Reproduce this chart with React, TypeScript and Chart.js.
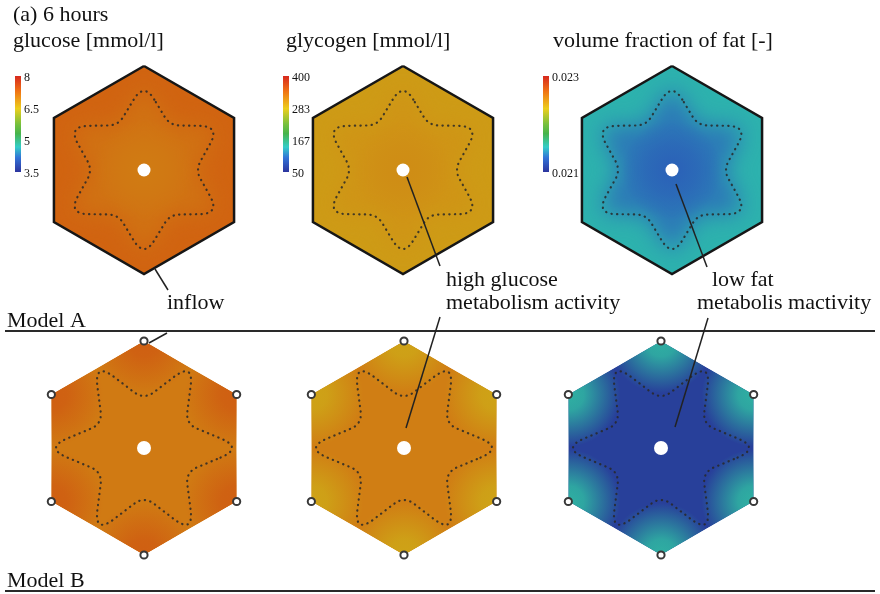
import { useEffect, useRef } from "react";
import { Chart, registerables } from "chart.js";

Chart.register(...registerables);

// ---------- values ----------
const timeLabel = "(a) 6 hours";
const fieldTitles = ["glucose [mmol/l]", "glycogen [mmol/l]", "volume fraction of fat [-]"];
const glucoseTicks = [8, 6.5, 5, 3.5];
const glycogenTicks = [400, 283, 167, 50];
const fatTicks = [0.023, 0.021];
const modelNames = ["Model A", "Model B"];

// field values per panel: [glucose, glycogen, fat]
const modelACentre = [7.04, 312, 0.02128];
const modelAZone = [7.14, 306, 0.02136];
const modelAInflow = [7.28, 300, 0.02152];
const modelBZone = [7.06, 323, 0.0211];
const modelBInflow = [7.34, 294, 0.02155];

const calloutInflow = ["inflow"];
const calloutGlucose = ["high glucose", "metabolism activity"];
const calloutFat = ["low fat", "metabolis mactivity"];

// ---------- layout ----------
const FIG_W = 880;
const FIG_H = 594;
const PANEL_X = [
  [144, 403, 672],
  [144, 404, 661],
];
const PANEL_Y = [170, 448];
const HEX_R = [104, 107];
const HOLE_R = [6.5, 7];
type StarShape = { tip: number; valley: number; dir: number; tipCut: number; valleyCut: number };
// dotted zone boundary (corner radii before rounding)
const STAR: StarShape[] = [
  { tip: 87.6, valley: 51.6, dir: 90, tipCut: 0.4, valleyCut: 0.2 },
  { tip: 99.6, valley: 48.2, dir: 0, tipCut: 0.4, valleyCut: 0.2 },
];
const BLOB_R = 52;
const BAR_X = [15, 283, 543];
const BAR_TOP = 76;
const BAR_BOTTOM = 172;
const BAR_W = 6;
const LEADERS = [
  [[155, 269], [168, 290]],
  [[167, 333], [149, 343]],
  [[407, 177], [440, 266]],
  [[440, 317], [406, 428]],
  [[676, 184], [707, 267]],
  [[708, 318], [675, 427]],
];
const RULE_Y = [331, 591];
const RULE_X = [5, 875];
const SERIF = "'Liberation Serif', 'Times New Roman', serif";

type RGB = [number, number, number];
const RAINBOW: [number, RGB][] = [
  [0.0, [215, 40, 30]],
  [0.16, [240, 115, 20]],
  [0.34, [236, 206, 28]],
  [0.5, [120, 192, 60]],
  [0.6, [70, 180, 75]],
  [0.74, [52, 205, 200]],
  [0.85, [50, 115, 215]],
  [1.0, [44, 52, 158]],
];
const FIELD_SHADE = 0.87;
const tickSets = [glucoseTicks, glycogenTicks, fatTicks];

function rainbow(t: number): RGB {
  const u = Math.min(1, Math.max(0, t));
  for (let i = 1; i < RAINBOW.length; i++) {
    const [t1, c1] = RAINBOW[i];
    const [t0, c0] = RAINBOW[i - 1];
    if (u <= t1) {
      const f = (u - t0) / (t1 - t0);
      return [0, 1, 2].map((k) => c0[k] + (c1[k] - c0[k]) * f) as RGB;
    }
  }
  return RAINBOW[RAINBOW.length - 1][1];
}

function fieldT(field: number, v: number) {
  const ticks = tickSets[field];
  const max = ticks[0];
  const min = ticks[ticks.length - 1];
  return (max - v) / (max - min);
}

function fieldColour(field: number, v: number, alpha = 1) {
  const c = rainbow(fieldT(field, v)).map((x) => Math.round(x * FIELD_SHADE));
  return `rgba(${c[0]},${c[1]},${c[2]},${alpha})`;
}

type Pt = { x: number; y: number };

function hexVertices(cx: number, cy: number, r: number, closed: boolean): Pt[] {
  const pts: Pt[] = [];
  for (let i = 0; i < 6; i++) {
    const a = ((90 - i * 60) * Math.PI) / 180;
    pts.push({ x: cx + r * Math.cos(a), y: cy - r * Math.sin(a) });
  }
  if (closed) pts.push(pts[0]);
  return pts;
}

// six-armed zone boundary: a hexagram with rounded corners
function starOutline(cx: number, cy: number, s: StarShape): Pt[] {
  const corners: Pt[] = [];
  for (let i = 0; i < 12; i++) {
    const a = ((s.dir + i * 30) * Math.PI) / 180;
    const r = i % 2 === 0 ? s.tip : s.valley;
    corners.push({ x: cx + r * Math.cos(a), y: cy - r * Math.sin(a) });
  }
  const pts: Pt[] = [];
  for (let i = 0; i < 12; i++) {
    const cut = i % 2 === 0 ? s.tipCut : s.valleyCut;
    const p = corners[i];
    const a = corners[(i + 11) % 12];
    const b = corners[(i + 1) % 12];
    const st = { x: p.x + (a.x - p.x) * cut, y: p.y + (a.y - p.y) * cut };
    const en = { x: p.x + (b.x - p.x) * cut, y: p.y + (b.y - p.y) * cut };
    const n = 14;
    for (let j = 0; j <= n; j++) {
      const t = j / n;
      const u = 1 - t;
      pts.push({
        x: u * u * st.x + 2 * u * t * p.x + t * t * en.x,
        y: u * u * st.y + 2 * u * t * p.y + t * t * en.y,
      });
    }
  }
  pts.push(pts[0]);
  return pts;
}

const fieldsPlugin = {
  id: "fields",
  beforeDatasetsDraw(chart: any) {
    const ctx: CanvasRenderingContext2D = chart.ctx;
    const xs = chart.scales.x;
    const ys = chart.scales.y;
    const px = (v: number) => xs.getPixelForValue(v);
    const py = (v: number) => ys.getPixelForValue(v);
    const k = px(1) - px(0);
    const path = (pts: Pt[]) => {
      ctx.beginPath();
      pts.forEach((p, i) => (i ? ctx.lineTo(px(p.x), py(p.y)) : ctx.moveTo(px(p.x), py(p.y))));
      ctx.closePath();
    };

    for (let m = 0; m < 2; m++) {
      for (let f = 0; f < 3; f++) {
        const cx = PANEL_X[m][f];
        const cy = PANEL_Y[m];
        const hex = hexVertices(cx, cy, HEX_R[m], false);
        ctx.save();
        path(hex);
        ctx.clip();
        if (m === 0) {
          ctx.fillStyle = fieldColour(f, modelAInflow[f]);
          ctx.fill();
          ctx.filter = `blur(${11 * k}px)`;
          path(starOutline(cx, cy, STAR[0]));
          ctx.fillStyle = fieldColour(f, modelAZone[f]);
          ctx.fill();
          ctx.filter = "none";
          const g = ctx.createRadialGradient(px(cx), py(cy), 0, px(cx), py(cy), 50 * k);
          g.addColorStop(0, fieldColour(f, modelACentre[f], 1));
          g.addColorStop(0.5, fieldColour(f, modelACentre[f], 0.6));
          g.addColorStop(1, fieldColour(f, modelACentre[f], 0));
          ctx.fillStyle = g;
          path(hex);
          ctx.fill();
        } else {
          ctx.fillStyle = fieldColour(f, modelBZone[f]);
          ctx.fill();
          for (const v of hex) {
            const g = ctx.createRadialGradient(px(v.x), py(v.y), 0, px(v.x), py(v.y), BLOB_R * k);
            g.addColorStop(0, fieldColour(f, modelBInflow[f], 1));
            g.addColorStop(0.3, fieldColour(f, modelBInflow[f], 0.9));
            g.addColorStop(1, fieldColour(f, modelBInflow[f], 0));
            ctx.fillStyle = g;
            path(hex);
            ctx.fill();
          }
        }
        ctx.restore();
      }
    }

    // colour bars
    for (let f = 0; f < 3; f++) {
      const x0 = px(BAR_X[f]);
      const y0 = py(BAR_TOP);
      const y1 = py(BAR_BOTTOM);
      const g = ctx.createLinearGradient(0, y0, 0, y1);
      RAINBOW.forEach(([t, c]) => g.addColorStop(t, `rgb(${c[0]},${c[1]},${c[2]})`));
      ctx.fillStyle = g;
      ctx.fillRect(x0, y0, BAR_W * k, y1 - y0);
      ctx.fillStyle = "#111";
      ctx.font = `${12 * k}px ${SERIF}`;
      ctx.textBaseline = "middle";
      ctx.textAlign = "left";
      for (const v of tickSets[f]) {
        const yy = BAR_TOP + fieldT(f, v) * (BAR_BOTTOM - BAR_TOP) + 2;
        ctx.fillText(String(v), px(BAR_X[f] + BAR_W + 3), py(yy));
      }
    }
  },
};

const textPlugin = {
  id: "texts",
  afterDatasetsDraw(chart: any) {
    const ctx: CanvasRenderingContext2D = chart.ctx;
    const xs = chart.scales.x;
    const ys = chart.scales.y;
    const k = xs.getPixelForValue(1) - xs.getPixelForValue(0);
    const put = (s: string, x: number, y: number) =>
      ctx.fillText(s, xs.getPixelForValue(x), ys.getPixelForValue(y));
    ctx.save();
    ctx.fillStyle = "#111";
    ctx.font = `${22 * k}px ${SERIF}`;
    ctx.textBaseline = "alphabetic";
    ctx.textAlign = "left";
    put(timeLabel, 13, 21);
    const titleX = [13, 286, 553];
    fieldTitles.forEach((s, i) => put(s, titleX[i], 47));
    put(calloutInflow[0], 167, 309);
    put(calloutGlucose[0], 446, 286);
    put(calloutGlucose[1], 446, 309);
    put(calloutFat[0], 712, 286);
    put(calloutFat[1], 697, 309);
    put(modelNames[0], 7, 327);
    put(modelNames[1], 7, 587);
    ctx.restore();
  },
};

function buildDatasets() {
  const ds: any[] = [];
  // dotted zone boundaries
  for (let m = 0; m < 2; m++) {
    for (let f = 0; f < 3; f++) {
      ds.push({
        data: starOutline(PANEL_X[m][f], PANEL_Y[m], STAR[m]),
        showLine: true,
        borderColor: "rgba(40,40,40,0.85)",
        borderWidth: 2.2,
        borderDash: [0.3, 5.3],
        borderCapStyle: "round",
        pointRadius: 0,
        order: 5,
      });
    }
  }
  // lobule outlines of model A
  for (let f = 0; f < 3; f++) {
    ds.push({
      data: hexVertices(PANEL_X[0][f], PANEL_Y[0], HEX_R[0], true),
      showLine: true,
      borderColor: "#161616",
      borderWidth: 2.5,
      borderJoinStyle: "miter",
      pointRadius: 0,
      order: 4,
    });
  }
  // callout leaders
  for (const l of LEADERS) {
    ds.push({
      data: l.map(([x, y]) => ({ x, y })),
      showLine: true,
      borderColor: "#222",
      borderWidth: 1.5,
      pointRadius: 0,
      order: 3,
    });
  }
  // model separators
  for (const y of RULE_Y) {
    ds.push({
      data: RULE_X.map((x) => ({ x, y })),
      showLine: true,
      borderColor: "#2a2a2a",
      borderWidth: 2,
      pointRadius: 0,
      order: 3,
    });
  }
  // central veins
  for (let m = 0; m < 2; m++) {
    ds.push({
      data: PANEL_X[m].map((x) => ({ x, y: PANEL_Y[m] })),
      showLine: false,
      pointRadius: HOLE_R[m],
      pointBackgroundColor: "#ffffff",
      pointBorderWidth: 0,
      order: 2,
    });
  }
  // inflow points of model B
  ds.push({
    data: PANEL_X[1].flatMap((x) => hexVertices(x, PANEL_Y[1], HEX_R[1], false)),
    showLine: false,
    pointRadius: 3.6,
    pointBackgroundColor: "#ffffff",
    pointBorderColor: "#383838",
    pointBorderWidth: 2,
    order: 1,
  });
  return ds;
}

export default function App() {
  const ref = useRef<HTMLCanvasElement>(null);
  useEffect(() => {
    const canvas = ref.current;
    if (!canvas) return;
    const chart = new Chart(canvas, {
      type: "scatter",
      data: { datasets: buildDatasets() },
      options: {
        responsive: false,
        maintainAspectRatio: false,
        animation: false,
        devicePixelRatio: 1,
        events: [],
        layout: { padding: 0, autoPadding: false },
        scales: {
          x: { type: "linear", min: 0, max: FIG_W, display: false },
          y: { type: "linear", min: 0, max: FIG_H, reverse: true, display: false },
        },
        plugins: { legend: { display: false }, tooltip: { enabled: false } },
      },
      plugins: [fieldsPlugin, textPlugin],
    } as any);
    return () => chart.destroy();
  }, []);
  return (
    <div style={{ position: "fixed", left: 0, top: 0, width: FIG_W, height: FIG_H, background: "#fff" }}>
      <canvas ref={ref} width={FIG_W} height={FIG_H} style={{ display: "block", width: FIG_W, height: FIG_H }} />
    </div>
  );
}
